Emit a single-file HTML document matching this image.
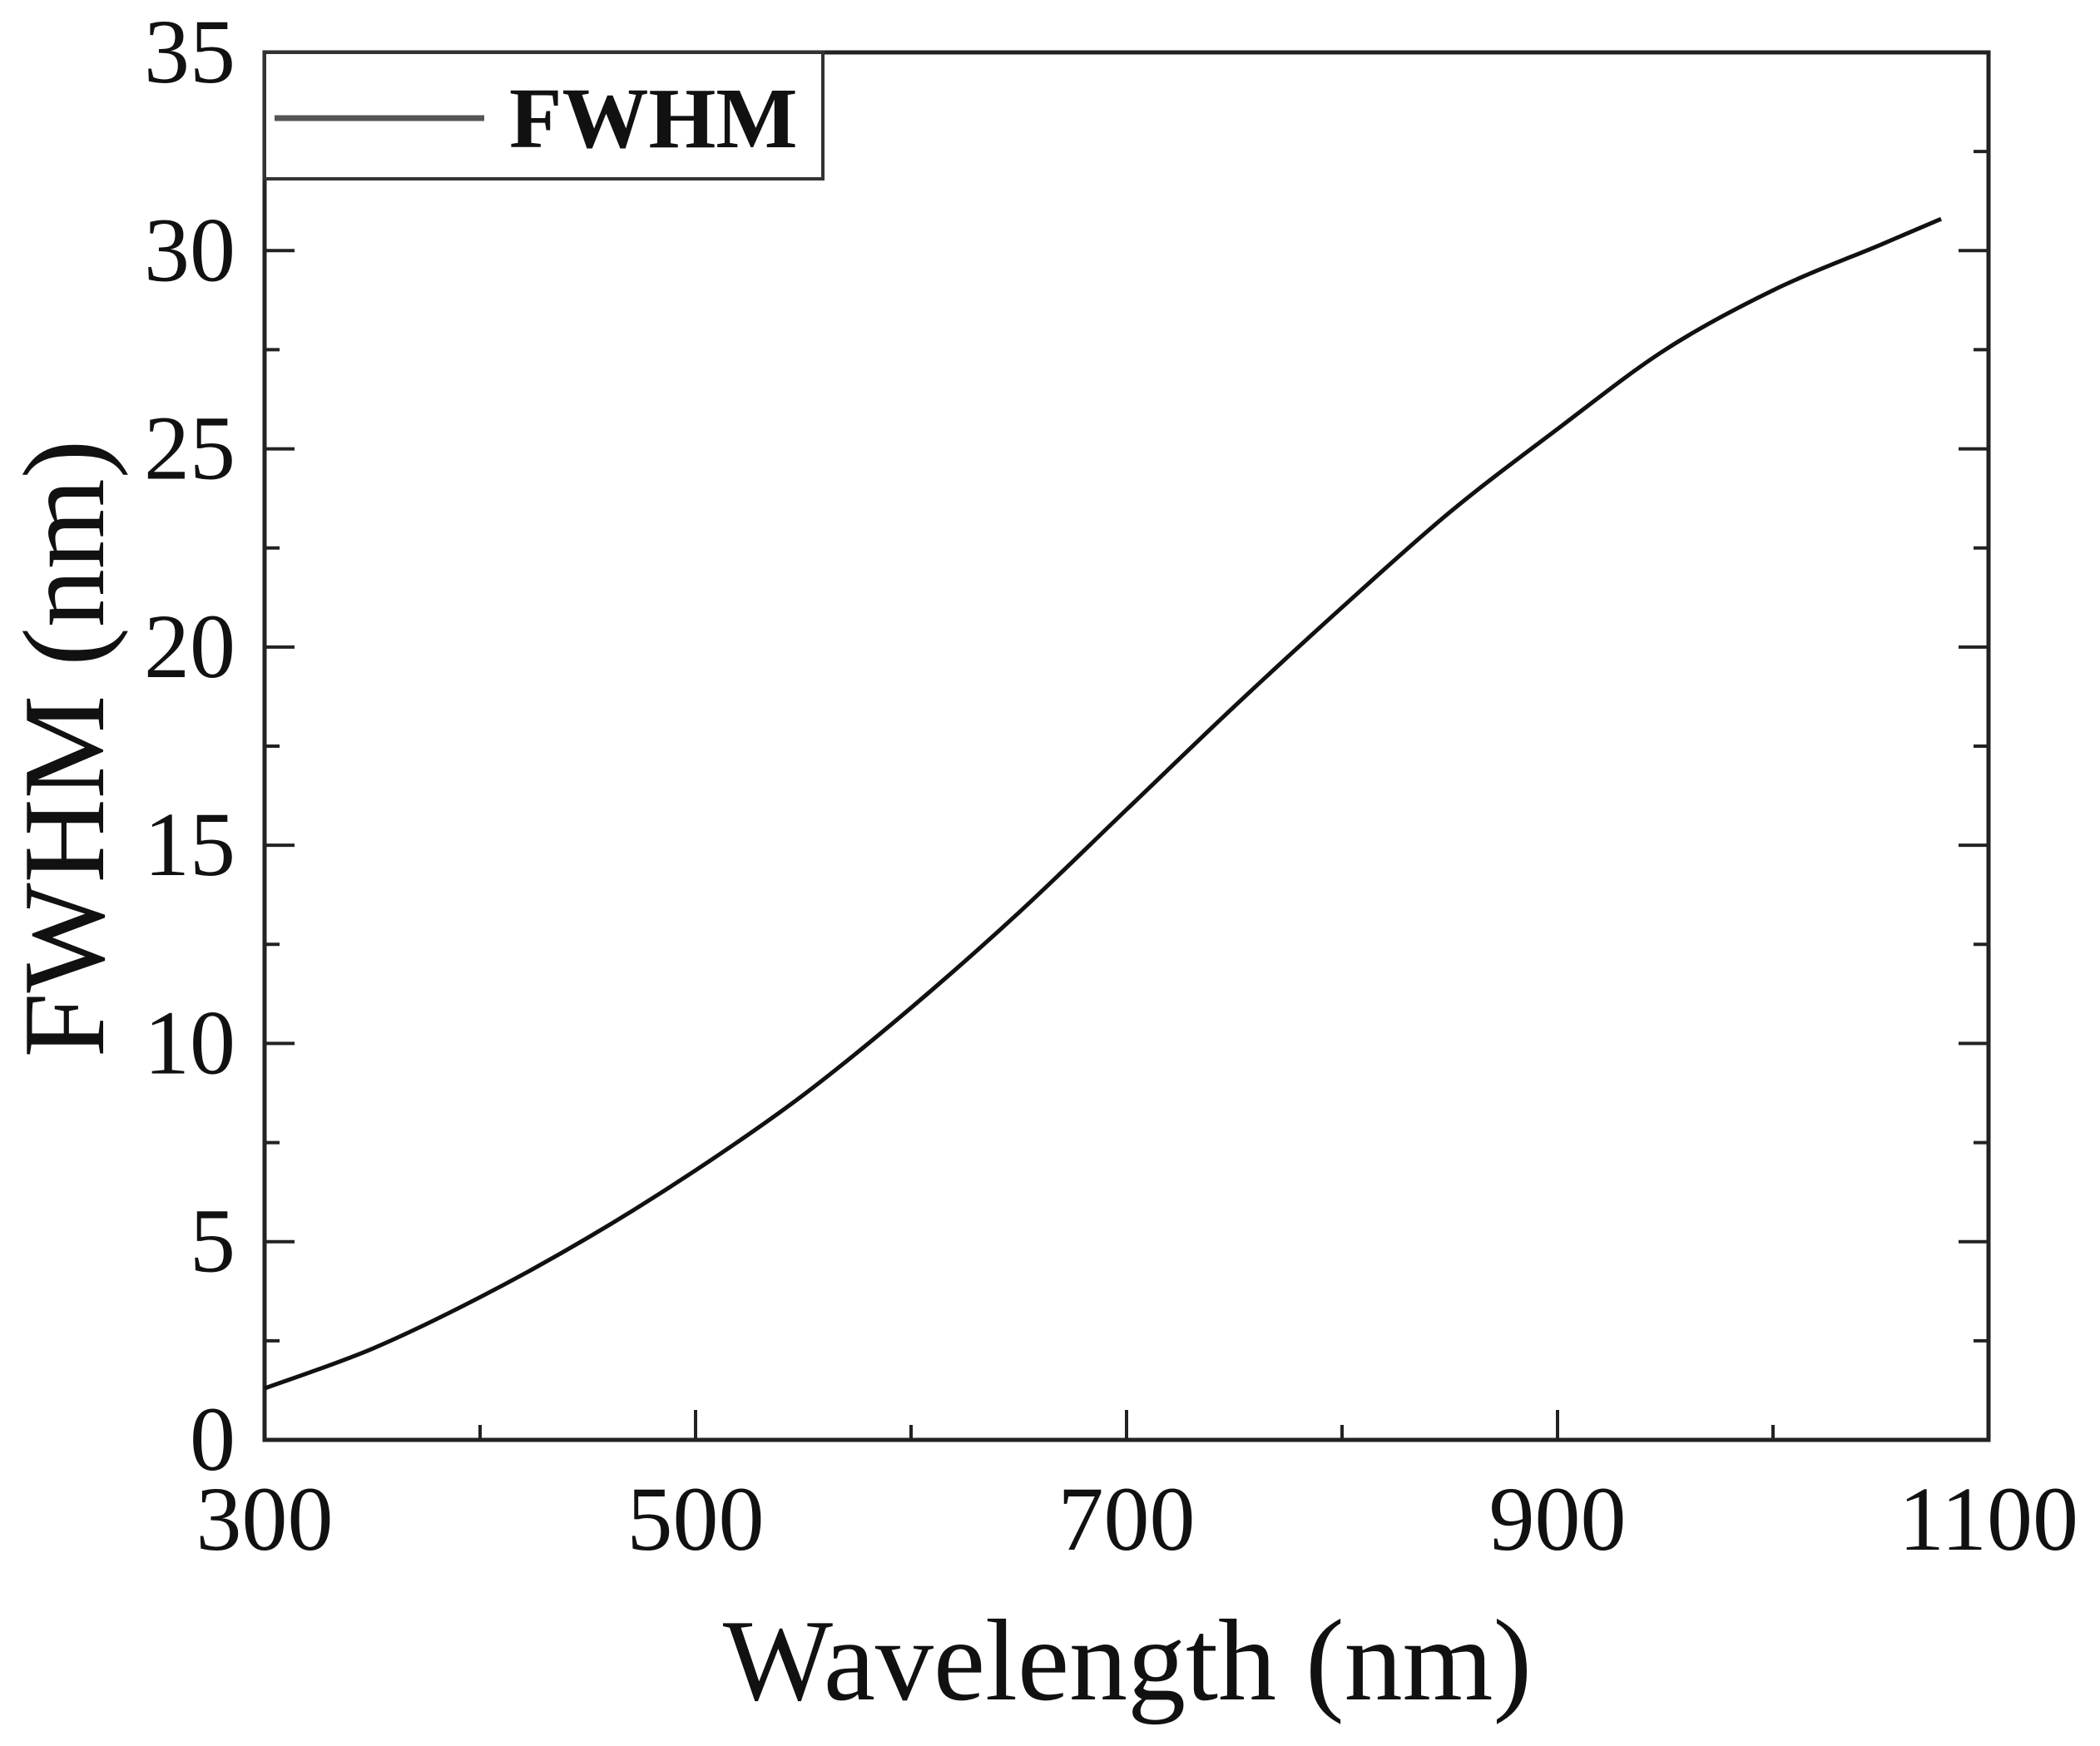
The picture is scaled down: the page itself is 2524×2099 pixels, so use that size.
<!DOCTYPE html>
<html><head><meta charset="utf-8"><style>
html,body{margin:0;padding:0;background:#fff}
svg{display:block}
text{font-family:"Liberation Serif",serif;fill:#111}
</style></head><body>
<svg id="chart" width="2524" height="2099" viewBox="0 0 2524 2099" xmlns="http://www.w3.org/2000/svg">
<g id="g"></g>
</svg>
<script>
const wavelengths=[300,350,400,450,500,550,600,650,700,750,800,850,900,950,1000,1050,1078];
const fwhmValues=[1.3,2.3,3.6,5.1,6.8,8.7,10.9,13.3,15.9,18.5,21.0,23.4,25.5,27.5,29.0,30.15,30.8];
const xTicks=[300,500,700,900,1100];
const xMinor=[400,600,800,1000];
const yTicks=[0,5,10,15,20,25,30,35];
const yMinor=[2.5,7.5,12.5,17.5,22.5,27.5,32.5];

const L=318,R=2390,T=63,B=1731;
const X=v=>L+(v-300)/800*(R-L);
const Y=v=>B-v/35*(B-T);
const NS="http://www.w3.org/2000/svg";
const g=document.getElementById('g');
function mk(tag,attrs,parent){const e=document.createElementNS(NS,tag);for(const k in attrs)e.setAttribute(k,attrs[k]);(parent||g).appendChild(e);return e;}

const frame=mk('rect',{x:L,y:T,width:R-L,height:B-T,fill:'none',stroke:'#222','stroke-width':5});



xTicks.forEach(v=>{
  const t=mk('line',{x1:X(v),x2:X(v),y1:B,y2:B-36,stroke:'#222','stroke-width':4});
  
  
  const lb=mk('text',{x:X(v),y:1863,'text-anchor':'middle','font-size':110});
  lb.textContent=v;
  
  
});
xMinor.forEach(v=>{
  const t=mk('line',{x1:X(v),x2:X(v),y1:B,y2:B-18,stroke:'#222','stroke-width':4});
  
  
});
yTicks.forEach(v=>{
  [[L,L+36],[R,R-36]].forEach(p=>{
    const t=mk('line',{x1:p[0],x2:p[1],y1:Y(v),y2:Y(v),stroke:'#222','stroke-width':4});
    
    
  });
  const lb=mk('text',{x:283,y:Y(v)+36,'text-anchor':'end','font-size':110});
  lb.textContent=v;
  
  
});
yMinor.forEach(v=>{
  [[L,L+18],[R,R-18]].forEach(p=>{
    const t=mk('line',{x1:p[0],x2:p[1],y1:Y(v),y2:Y(v),stroke:'#222','stroke-width':4});
    
    
  });
});

const pts=wavelengths.map((w,i)=>[X(w),Y(fwhmValues[i])]);
let d='M'+pts[0][0]+','+pts[0][1];
for(let i=0;i<pts.length-1;i++){
  const p0=pts[Math.max(0,i-1)],p1=pts[i],p2=pts[i+1],p3=pts[Math.min(pts.length-1,i+2)];
  const c1=[p1[0]+(p2[0]-p0[0])/6,p1[1]+(p2[1]-p0[1])/6];
  const c2=[p2[0]-(p3[0]-p1[0])/6,p2[1]-(p3[1]-p1[1])/6];
  d+=' C'+c1[0]+','+c1[1]+' '+c2[0]+','+c2[1]+' '+p2[0]+','+p2[1];
}
const line=mk('path',{d:d,fill:'none',stroke:'#111','stroke-width':5});



const lg=mk('g',{});


mk('rect',{x:L,y:T,width:989-L,height:215-T,fill:'#fff',stroke:'#333','stroke-width':4},lg);
mk('line',{x1:330,x2:582,y1:142,y2:142,stroke:'#555','stroke-width':7},lg);
const lt=mk('text',{x:612,y:177,'font-size':104,'font-weight':'bold'},lg);
lt.textContent='FWHM';



const xt=mk('text',{x:1355,y:2043,'text-anchor':'middle','font-size':140});
xt.textContent='Wavelength (nm)';


const yt=mk('text',{x:0,y:0,'text-anchor':'middle','font-size':140,transform:'translate(124,900) rotate(-90)'});
yt.textContent='FWHM (nm)';


</script>
</body></html>
